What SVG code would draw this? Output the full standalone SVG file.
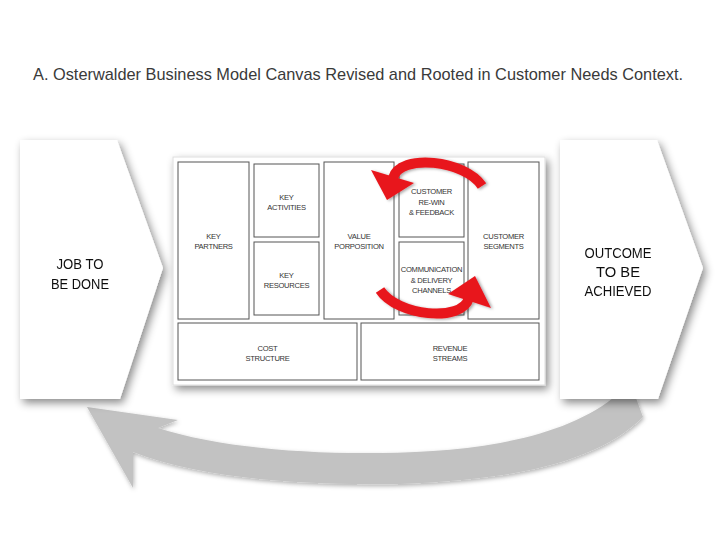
<svg xmlns="http://www.w3.org/2000/svg" width="720" height="540" viewBox="0 0 720 540">
<defs>
<filter id="sh" x="-20%" y="-20%" width="150%" height="150%">
<feDropShadow dx="3" dy="4" stdDeviation="4" flood-color="#000" flood-opacity="0.45"/>
</filter>
<filter id="shs" x="-20%" y="-20%" width="150%" height="150%">
<feDropShadow dx="1" dy="2" stdDeviation="2" flood-color="#000" flood-opacity="0.3"/>
</filter>
<filter id="shr" x="-20%" y="-20%" width="150%" height="150%">
<feDropShadow dx="2" dy="1" stdDeviation="1.5" flood-color="#000" flood-opacity="0.35"/>
</filter>
</defs>
<style>
.box{fill:#fff;stroke:#555;stroke-width:1}
.t{font-family:"Liberation Sans",Arial,sans-serif;font-size:7.6px;letter-spacing:-0.3px;fill:#333;text-anchor:middle}
.big{font-family:"Liberation Sans",Arial,sans-serif;font-size:15px;fill:#111;text-anchor:middle}
.chev{fill:#fff}
.red{fill:none;stroke:#e8161c;stroke-width:10}
.redf{fill:#e8161c}
</style>
<rect width="720" height="540" fill="#fff"/>
<text x="358" y="80" font-family="'Liberation Sans',Arial,sans-serif" font-size="17" fill="#3a3a3a" text-anchor="middle" textLength="650" lengthAdjust="spacingAndGlyphs">A. Osterwalder Business Model Canvas Revised and Rooted in Customer Needs Context.</text>

<g id="connectors">
<path id="loop-arrow" filter="url(#shs)" fill="#c2c2c2" d="M613,398 C560,440 470,452 380,453 C290,454 210,445 158,428 L178,420 L87,407 L133,488 L133,452 C200,478 300,486 400,484 C520,480 600,460 643,417 L636,398 Z"/>
</g>

<g id="job" filter="url(#sh)">
<polygon class="chev" points="20,140 117,140 163,268 120,399 20,399"/>
<text class="big" x="80" y="269" textLength="47" lengthAdjust="spacingAndGlyphs">JOB TO</text>
<text class="big" x="80" y="289" textLength="58" lengthAdjust="spacingAndGlyphs">BE DONE</text>
</g>

<g id="outcome" filter="url(#sh)">
<polygon class="chev" points="560,140 657,140 703,268 658,399 560,399"/>
<text class="big" x="618" y="258" textLength="67" lengthAdjust="spacingAndGlyphs">OUTCOME</text>
<text class="big" x="618" y="277" textLength="44" lengthAdjust="spacingAndGlyphs">TO BE</text>
<text class="big" x="618" y="296" textLength="67" lengthAdjust="spacingAndGlyphs">ACHIEVED</text>
</g>

<g id="canvas">
<rect x="173" y="157" width="372" height="228" fill="#fff" stroke="#ddd" stroke-width="1" filter="url(#sh)"/>
</g>

<g id="key-partners">
<rect class="box" x="178" y="162" width="71" height="157"/>
<text class="t" x="213.5" y="239">KEY</text>
<text class="t" x="213.5" y="249">PARTNERS</text>
</g>
<g id="key-activities">
<rect class="box" x="254" y="164" width="65" height="73"/>
<text class="t" x="286.5" y="200">KEY</text>
<text class="t" x="286.5" y="210">ACTIVITIES</text>
</g>
<g id="key-resources">
<rect class="box" x="254" y="242" width="65" height="73"/>
<text class="t" x="286.5" y="278">KEY</text>
<text class="t" x="286.5" y="288">RESOURCES</text>
</g>
<g id="value-proposition">
<rect class="box" x="324" y="162" width="70" height="157"/>
<text class="t" x="359" y="239">VALUE</text>
<text class="t" x="359" y="249">PORPOSITION</text>
</g>
<g id="customer-rewin">
<rect class="box" x="399" y="164" width="65" height="73"/>
<text class="t" x="431.5" y="194">CUSTOMER</text>
<text class="t" x="431.5" y="204.5">RE-WIN</text>
<text class="t" x="431.5" y="215">&amp; FEEDBACK</text>
</g>
<g id="communication">
<rect class="box" x="399" y="242" width="65" height="73"/>
<text class="t" x="431.5" y="272">COMMUNICATION</text>
<text class="t" x="431.5" y="282.5">&amp; DELIVERY</text>
<text class="t" x="431.5" y="293">CHANNELS</text>
</g>
<g id="customer-segments">
<rect class="box" x="468" y="162" width="71" height="157"/>
<text class="t" x="503.5" y="239">CUSTOMER</text>
<text class="t" x="503.5" y="249">SEGMENTS</text>
</g>
<g id="cost-structure">
<rect class="box" x="178" y="323" width="179" height="57"/>
<text class="t" x="267.5" y="351">COST</text>
<text class="t" x="267.5" y="361">STRUCTURE</text>
</g>
<g id="revenue-streams">
<rect class="box" x="361" y="323" width="178" height="57"/>
<text class="t" x="450" y="351">REVENUE</text>
<text class="t" x="450" y="361">STREAMS</text>
</g>

<g id="red-arrows" filter="url(#shr)">
<path class="red" d="M482,186 C465,160 400,153 393,178"/>
<polygon class="redf" points="371,170 387,200 414,183"/>
<path class="red" d="M380,290 C397,316 462,323 469,298"/>
<polygon class="redf" points="475,276 491,308 448,294"/>
</g>
</svg>
